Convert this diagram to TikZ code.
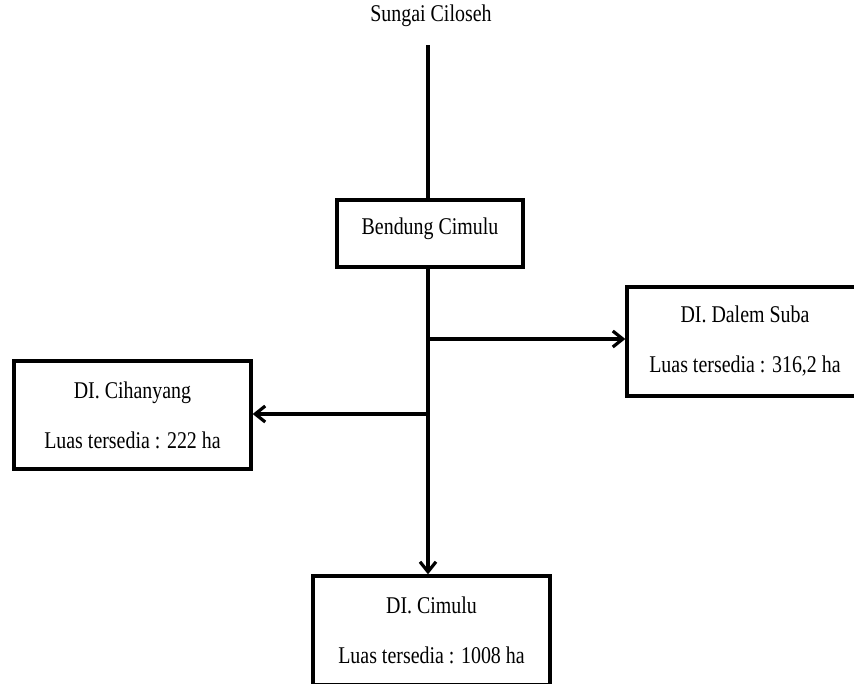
\documentclass[tikz,border=0pt]{standalone}
\usepackage{fontspec}
\setmainfont{Liberation Serif}[FakeStretch=0.83]
\usetikzlibrary{arrows.meta}
\begin{document}
\begin{tikzpicture}[x=0.75pt,y=-0.75pt,
  line/.style={line width=2.4pt, draw=black},
  arr/.style={line, -{Straight Barb[length=7.5pt,width=12pt,line width=2.4pt]}},
  box/.style={draw=black, line width=2.5pt, inner sep=0pt, align=center,
    font=\fontsize{18}{37.5}\selectfont},
  lbl/.style={inner sep=0pt, font=\fontsize{18}{20}\selectfont}]
\useasboundingbox (0,0) rectangle (854,683);
\clip (0,0) rectangle (854,683);
\node[lbl] (src) at (431,16) {Sungai Ciloseh};
\node[box, minimum width=139.5pt, minimum height=50.25pt] (bend) at (430,233.5) {};
\node[lbl] (bendt) at (430,229) {Bendung Cimulu};
\node[box, minimum width=177.75pt, minimum height=81pt] (cih) at (132.5,415) {DI. Cihanyang\\Luas tersedia : 222 ha};
\node[box, minimum width=177pt, minimum height=81.75pt] (dal) at (745,341.5) {DI. Dalem Suba\\Luas tersedia : 316,2 ha};
\node[box, minimum width=177.75pt, minimum height=81.75pt] (cim) at (431.5,630.5) {DI. Cimulu\\Luas tersedia : 1008 ha};
\coordinate (top) at (428,45);
\coordinate (jr) at (428,339);
\coordinate (jl) at (428,414);
\draw[line] (top) -- (top |- bend.north);
\draw[arr] (top |- bend.south) -- (top |- cim.north);
\draw[arr] (jr) -- (jr -| dal.west);
\draw[arr] (jl) -- (jl -| cih.east);
\end{tikzpicture}
\end{document}
